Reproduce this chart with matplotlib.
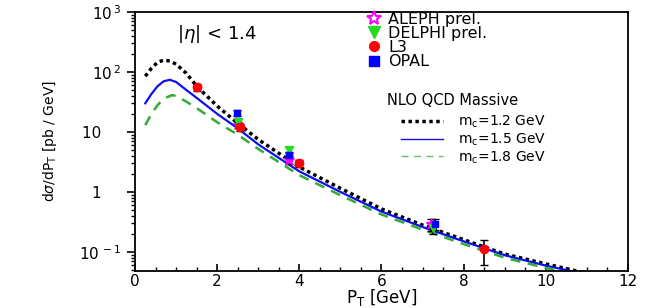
import matplotlib
matplotlib.use("Agg")
from matplotlib import pyplot as plt
from matplotlib.lines import Line2D
from matplotlib.ticker import LogLocator, MultipleLocator, NullFormatter

plt.rcParams['font.family'] = ['DejaVu Sans']

# NLO QCD massive curves
pt_12 = [0.25, 0.4, 0.55, 0.7, 0.85, 1.0, 1.25, 1.5, 2.0, 2.5, 3.0, 4.0, 5.0, 6.0, 7.0, 8.0, 9.0, 10.0, 11.0]
y_12 = [85, 115, 145, 158, 152, 135, 95, 58, 27, 14, 7.5, 2.6, 1.15, 0.52, 0.28, 0.16, 0.092, 0.063, 0.044]
pt_15 = [0.25, 0.4, 0.55, 0.7, 0.85, 1.0, 1.25, 1.5, 2.0, 2.5, 3.0, 4.0, 5.0, 6.0, 7.0, 8.0, 9.0, 10.0, 11.0]
y_15 = [30, 43, 58, 70, 74, 68, 50, 37, 20, 11.5, 6.2, 2.2, 1.0, 0.47, 0.26, 0.15, 0.088, 0.059, 0.042]
pt_18 = [0.25, 0.4, 0.55, 0.7, 0.9, 1.0, 1.25, 1.5, 2.0, 2.5, 3.0, 4.0, 5.0, 6.0, 7.0, 8.0, 9.0, 10.0, 11.0]
y_18 = [13, 20, 28, 36, 41, 40, 32, 25, 14.5, 9, 5.2, 1.9, 0.88, 0.42, 0.235, 0.135, 0.08, 0.054, 0.038]

# measurements
aleph_x = [2.5, 3.75, 7.2]
aleph_y = [13, 3.4, 0.29]
aleph_err = [1.5, 0.5, 0.07]
delphi_x = [2.5, 3.75, 7.25]
delphi_y = [14.7, 5.0, 0.25]
delphi_err = [1.8, 0.6, 0.05]
l3_x = [1.5, 2.55, 4.0, 8.5]
l3_y = [56, 12, 3.0, 0.11]
l3_err = [7, 1.5, 0.4, 0.05]
opal_x = [2.48, 3.75, 7.3]
opal_y = [20.7, 4.1, 0.29]
opal_err = [2.5, 0.6, 0.06]

ytick_vals = [0.1, 1, 10, 100, 1000]
ytick_labels = [r'$\mathregular{10^{\,-1}}$', '1    ', '10    ',
                r'$\mathregular{10^{\,2}}$', r'$\mathregular{10^{\,3}}$']

fig = plt.figure(figsize=(6.66, 3.08), dpi=100)
ax = fig.add_axes([0.2027, 0.1201, 0.7402, 0.841])

ax.plot(pt_12, y_12, color='black', linestyle=(0, (1, 1)), linewidth=2.5)
ax.plot(pt_15, y_15, color='#1010ee', linestyle='-', linewidth=1.6)
ax.plot(pt_18, y_18, color='#33aa33', linestyle=(0, (4, 3)), linewidth=1.8)

ax.errorbar(aleph_x, aleph_y, yerr=aleph_err, fmt='*', color='magenta', mfc='magenta',
            ms=8, ecolor='black', elinewidth=1.2, capsize=3, zorder=5)
ax.errorbar(delphi_x, delphi_y, yerr=delphi_err, fmt='v', color='#22dd22',
            ms=6, ecolor='black', elinewidth=1.2, capsize=3, zorder=5)
ax.errorbar(opal_x, opal_y, yerr=opal_err, fmt='s', color='#0000ff',
            ms=5, ecolor='black', elinewidth=1.2, capsize=3, zorder=5)
ax.errorbar(l3_x, l3_y, yerr=l3_err, fmt='o', color='#ff0000',
            ms=6, ecolor='black', elinewidth=1.2, capsize=3, zorder=6)

ax.set_yscale('log')
ax.set_xlim(0, 12)
ax.set_ylim(0.048, 1000)
ax.xaxis.set_major_locator(MultipleLocator(2))
ax.xaxis.set_minor_locator(MultipleLocator(0.5))
ax.set_yticks(ytick_vals)
ax.set_yticklabels(ytick_labels)
ax.yaxis.set_minor_locator(LogLocator(base=10, subs=range(2, 10)))
ax.yaxis.set_minor_formatter(NullFormatter())
ax.tick_params(axis='y', which='major', length=6, width=1.2, labelsize=11, pad=4)
ax.tick_params(axis='y', which='minor', length=3, width=1)
ax.tick_params(axis='x', which='major', direction='in', length=5, width=1.2, labelsize=11, pad=2)
ax.tick_params(axis='x', which='minor', direction='in', length=3, width=1)
for s in ax.spines.values():
    s.set_linewidth(1.3)

ax.set_xlabel(r'P$_{\rm T}$ [GeV]', fontsize=12, labelpad=-1)
ax.set_ylabel(r'd$\sigma$/dP$_{\rm T}$ [pb / GeV]', fontsize=10)
ax.yaxis.set_label_coords(-0.155, 0.5)

ax.text(0.085, 0.915, r'|$\eta$| < 1.4', transform=ax.transAxes, fontsize=13,
        va='center', ha='left')

h1 = [Line2D([], [], marker='*', color='magenta', mfc='none', mew=1.5, ls='none', ms=10),
      Line2D([], [], marker='v', color='#22dd22', ls='none', ms=8),
      Line2D([], [], marker='o', color='#ff0000', ls='none', ms=7),
      Line2D([], [], marker='s', color='#0000ff', ls='none', ms=7)]
leg1 = ax.legend(h1, ['ALEPH prel.', 'DELPHI prel.', 'L3', 'OPAL'],
                 loc='upper left', bbox_to_anchor=(0.445, 1.045), frameon=False,
                 fontsize=11.5, handlelength=1.0, handletextpad=0.4,
                 labelspacing=-0.05, borderpad=0.2)
ax.add_artist(leg1)

ax.text(0.512, 0.66, 'NLO QCD Massive', transform=ax.transAxes, fontsize=10.5,
        va='center', ha='left')
h2 = [Line2D([], [], color='black', ls=(0, (1, 1)), lw=2.5),
      Line2D([], [], color='#1010ee', ls='-', lw=1),
      Line2D([], [], color='#66bb66', ls=(0, (5, 4)), lw=1)]
leg2 = ax.legend(h2, [r'm$_{\rm c}$=1.2 GeV', r'm$_{\rm c}$=1.5 GeV', r'm$_{\rm c}$=1.8 GeV'],
                 loc='upper left', bbox_to_anchor=(0.52, 0.645), frameon=False,
                 fontsize=10, handlelength=3.0, handletextpad=1.1,
                 labelspacing=0.1, borderpad=0.2)

fig.savefig('out.png', dpi=100)
